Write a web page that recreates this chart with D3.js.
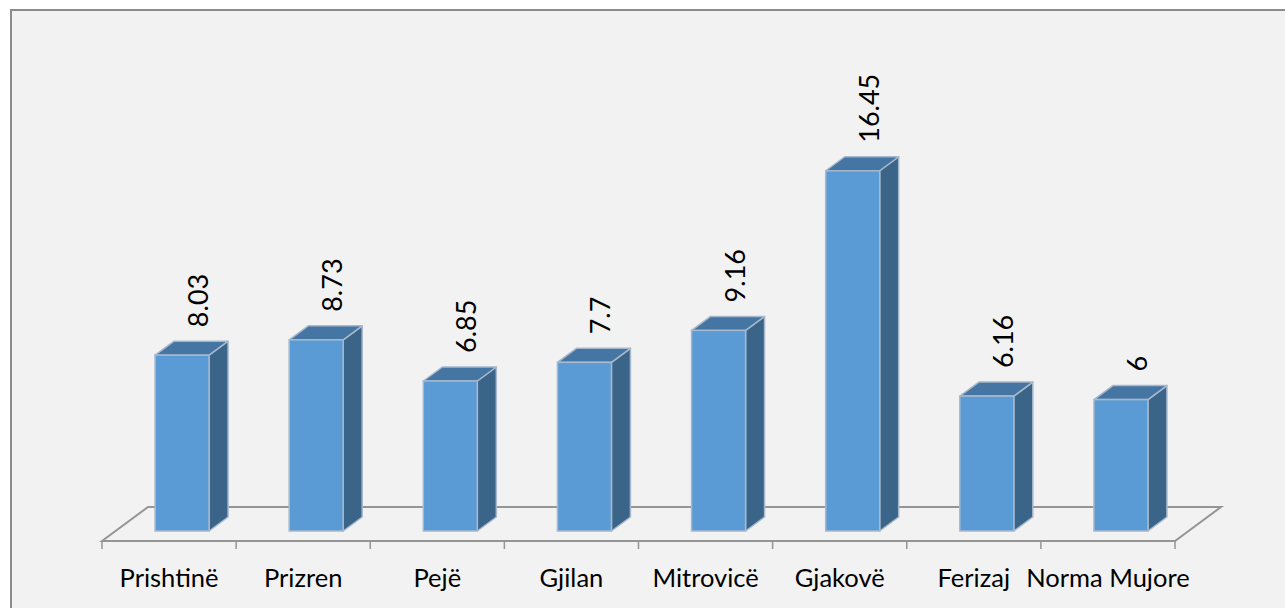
<!DOCTYPE html>
<html>
<head>
<meta charset="utf-8">
<script src="https://cdn.jsdelivr.net/npm/d3@7"></script>
<style>
  body { margin: 0; background: #ffffff; }
  svg { display: block; }
</style>
</head>
<body>
<svg id="chart"></svg>
<script>
// Chart data
const categories = ["Prishtinë", "Prizren", "Pejë", "Gjilan", "Mitrovicë", "Gjakovë", "Ferizaj", "Norma Mujore"];
const values = [8.03, 8.73, 6.85, 7.7, 9.16, 16.45, 6.16, 6];
const valueLabels = ["8.03", "8.73", "6.85", "7.7", "9.16", "16.45", "6.16", "6"];

function drawChart() {
  const svg = d3.select("#chart")
      .attr("width", 1285)
      .attr("height", 608);

  // chart area background + frame
  svg.append("rect")
    .attr("x", 11).attr("y", 10)
    .attr("width", 1290).attr("height", 620)
    .attr("fill", "#f2f2f2")
    .attr("stroke", "#8c8c8c")
    .attr("stroke-width", 2);

  const floorFront = 541;           // front edge of the floor
  const floorDx = 46, floorDy = 34; // floor depth
  const barDx = 19, barDy = 14;     // bar depth
  const shiftX = 13, shiftY = 10;   // bar front face offset from floor front

  const xScale = d3.scaleBand().domain(categories).range([102, 1175]).padding(0);
  const base = floorFront - shiftY;
  const yScale = d3.scaleLinear().domain([0, 18]).range([base, base - 18 * 21.9]);

  const bw = 54;
  const barX = d => xScale(d) + xScale.bandwidth() / 2 - bw / 2 + shiftX;

  // floor
  const x0 = xScale.range()[0], x1 = xScale.range()[1];
  svg.append("path")
    .attr("d", `M${x0},${floorFront} L${x0 + floorDx},${floorFront - floorDy} L${x1 + floorDx},${floorFront - floorDy} L${x1},${floorFront} Z`)
    .attr("fill", "none")
    .attr("stroke", "#959595")
    .attr("stroke-width", 2);

  // x axis ticks and labels
  const axis = svg.append("g")
    .attr("transform", `translate(0,${floorFront})`)
    .call(d3.axisBottom(xScale).tickSize(0).tickPadding(0));
  axis.select(".domain").remove();
  axis.selectAll("text")
    .attr("y", 46)
    .attr("dy", 0)
    .style("font-family", "Lato, 'Open Sans', sans-serif")
    .style("font-size", "25.5px")
    .attr("fill", "#000");
  const tickXs = categories.map(c => xScale(c)).concat([x1]);
  svg.selectAll("line.tick")
    .data(tickXs)
    .enter()
    .append("line")
    .attr("x1", d => d).attr("x2", d => d)
    .attr("y1", floorFront).attr("y2", floorFront + 8)
    .attr("stroke", "#959595")
    .attr("stroke-width", 1.5);

  const data = categories.map((c, i) => ({cat: c, v: values[i], label: valueLabels[i]}));
  const bars = svg.selectAll("g.bar").data(data).enter().append("g").attr("class", "bar");

  // side face
  bars.append("path")
    .attr("d", d => {
      const xr = barX(d.cat) + bw, yt = yScale(d.v);
      return `M${xr},${base} L${xr + barDx},${base - barDy} L${xr + barDx},${yt - barDy} L${xr},${yt} Z`;
    })
    .attr("fill", "#3b6489")
    .attr("stroke", "#a7b8cc").attr("stroke-width", 1.5).attr("stroke-linejoin", "round");

  // top face
  bars.append("path")
    .attr("d", d => {
      const xl = barX(d.cat), yt = yScale(d.v);
      return `M${xl},${yt} L${xl + barDx},${yt - barDy} L${xl + bw + barDx},${yt - barDy} L${xl + bw},${yt} Z`;
    })
    .attr("fill", "#4475a3")
    .attr("stroke", "#a7b8cc").attr("stroke-width", 1.5).attr("stroke-linejoin", "round");

  // front face
  bars.append("rect")
    .attr("x", d => barX(d.cat))
    .attr("y", d => yScale(d.v))
    .attr("width", bw)
    .attr("height", d => base - yScale(d.v))
    .attr("fill", "#5b9bd5")
    .attr("stroke", "#a7b8cc").attr("stroke-width", 1.5);

  // value labels
  bars.append("text")
    .attr("transform", d => `translate(${barX(d.cat) + 53},${yScale(d.v) - barDy - 14}) rotate(-90)`)
    .attr("text-anchor", "start")
    .style("font-family", "Lato, 'Open Sans', sans-serif")
    .style("font-size", "27px")
    .attr("fill", "#000")
    .text(d => d.label);
}

drawChart();
</script>
</body>
</html>
